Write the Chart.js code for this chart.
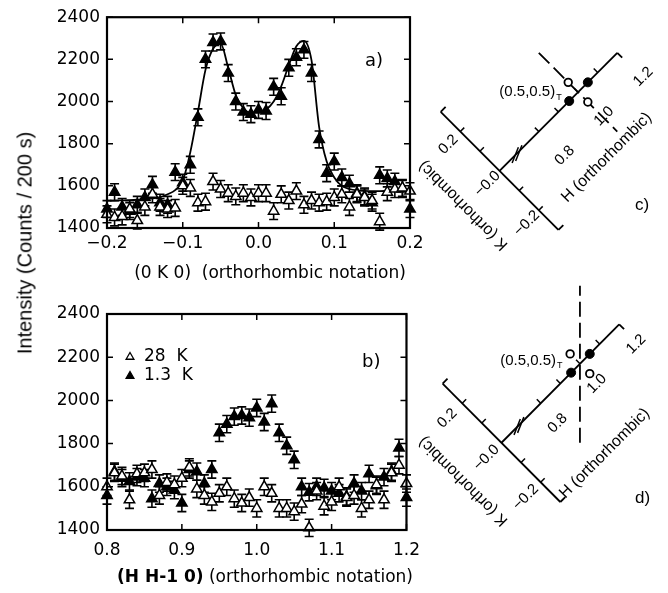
<!DOCTYPE html>
<html>
<head>
<meta charset="utf-8">
<script src="https://cdn.jsdelivr.net/npm/chart.js@4/dist/chart.umd.min.js"></script>
<style>
  body { margin: 0; background: #fff; width: 668px; height: 593px; position: relative; overflow: hidden; }
  canvas { position: absolute; }
  .lbl { position: absolute; white-space: nowrap; color: #000; transform: translate(-50%, -50%); }
</style>
</head>
<body>
<canvas id="chartA" width="430" height="290" style="left:0;top:0;width:430px;height:290px"></canvas>
<canvas id="chartB" width="430" height="303" style="left:0;top:290px;width:430px;height:303px"></canvas>
<canvas id="diagC" width="268" height="290" style="left:400px;top:0;width:268px;height:290px"></canvas>
<canvas id="diagD" width="268" height="313" style="left:400px;top:280px;width:268px;height:313px"></canvas>

<div class="lbl" style="left:25px;top:243px;transform:translate(-50%,-50%) rotate(-90deg);font:20px 'Liberation Sans'">Intensity (Counts / 200 s)</div>
<div class="lbl" style="left:270px;top:272px;font:17px 'DejaVu Sans'">(0 K 0)&nbsp; (orthorhombic notation)</div>
<div class="lbl" style="left:265px;top:576px;font:17px 'DejaVu Sans'"><b>(H H-1 0)</b> (orthorhombic notation)</div>

<script>
// ---- panel a: scan along (0 K 0)
const kScan = [-0.20, -0.19, -0.18, -0.17, -0.16, -0.15, -0.14, -0.13, -0.12, -0.11, -0.10,
  -0.09, -0.08, -0.07, -0.06, -0.05, -0.04, -0.03, -0.02, -0.01, 0.00,
  0.01, 0.02, 0.03, 0.04, 0.05, 0.06, 0.07, 0.08, 0.09, 0.10,
  0.11, 0.12, 0.13, 0.14, 0.15, 0.16, 0.17, 0.18, 0.19, 0.20];
const a_1p3K = [1490, 1570, 1500, 1480, 1510, 1545, 1605, 1520, 1510, 1665, 1615,
  1700, 1925, 2200, 2280, 2285, 2135, 2000, 1950, 1940, 1960,
  1955, 2070, 2025, 2160, 2210, 2245, 2135, 1820, 1660, 1715,
  1640, 1610, 1565, 1550, 1520, 1650, 1635, 1620, 1585, 1490];
const a_28K = [1465, 1450, 1455, 1490, 1435, 1500, 1560, 1500, 1490, 1495, 1600,
  1590, 1520, 1525, 1620, 1585, 1565, 1550, 1565, 1545, 1565,
  1565, 1480, 1560, 1530, 1575, 1510, 1530, 1520, 1525, 1545,
  1560, 1500, 1560, 1545, 1530, 1430, 1570, 1585, 1590, 1575];
const a_fit = [1530, 1530, 1531, 1532, 1534, 1537, 1541, 1546, 1560, 1580, 1625,
  1760, 1950, 2150, 2250, 2275, 2160, 2030, 1968, 1948, 1950,
  1962, 2000, 2072, 2172, 2262, 2288, 2195, 1880, 1715, 1640,
  1600, 1585, 1578, 1576, 1575, 1575, 1576, 1577, 1578, 1579];

// ---- panel b: scan along (H H-1 0)
const hScan = [0.80, 0.81, 0.82, 0.83, 0.84, 0.85, 0.86, 0.87, 0.88, 0.89, 0.90,
  0.91, 0.92, 0.93, 0.94, 0.95, 0.96, 0.97, 0.98, 0.99, 1.00,
  1.01, 1.02, 1.03, 1.04, 1.05, 1.06, 1.07, 1.08, 1.09, 1.10,
  1.11, 1.12, 1.13, 1.14, 1.15, 1.16, 1.17, 1.18, 1.19, 1.20];
const b_1p3K = [1560, 1670, 1640, 1625, 1645, 1640, 1545, 1615, 1600, 1585, 1525,
  1680, 1670, 1615, 1680, 1850, 1890, 1925, 1930, 1920, 1965,
  1900, 1985, 1850, 1790, 1725, 1600, 1575, 1600, 1595, 1580,
  1570, 1555, 1615, 1580, 1660, 1605, 1645, 1670, 1780, 1550];
const b_28K = [1600, 1665, 1650, 1540, 1660, 1665, 1680, 1560, 1620, 1610, 1640,
  1690, 1590, 1560, 1530, 1570, 1600, 1545, 1525, 1550, 1500,
  1600, 1570, 1500, 1500, 1485, 1520, 1410, 1580, 1510, 1530,
  1600, 1550, 1560, 1500, 1540, 1610, 1540, 1665, 1700, 1615];

const errCounts = 40;
const intensityTicks = [1400, 1600, 1800, 2000, 2200, 2400];
const legendItems = [{ text: '28  K', fill: '#fff' }, { text: '1.3  K', fill: '#000' }];

// ---- diagrams c) and d)
const hTickVals = [0.8, 0.9, 1.0, 1.1];
const hTickLabels = [[0.8, '0.8'], [1.0, '1.0'], [1.2, '1.2']];
const kTickVals = [0.2, 0.1, -0.1, -0.2];
const kTickLabels = [[0.2, '0.2'], [0, '\u22120.0'], [-0.2, '\u22120.2']];
const filledSpots = [[0.955, 0], [1.05, 0]];
const openSpots = [[1.0, 0.05], [1.0, -0.05]];
const dashC = [[1.0, 0.2], [1.0, -0.2]];
const dashD = [[0.8, -0.2], [1.2, 0.2]];

const fmt = v => {
  if (Math.abs(v) < 1e-9) return '0.0';
  return (v < 0 ? '\u2212' : '') + Math.abs(v).toFixed(1);
};
const pts = (xs, ys) => xs.map((x, i) => ({ x: x, y: ys[i] }));

const errorBars = {
  id: 'errorBars',
  beforeDatasetsDraw(chart) {
    const { ctx, scales: { y } } = chart;
    ctx.save();
    ctx.strokeStyle = '#000';
    ctx.lineWidth = 1.6;
    chart.data.datasets.forEach((ds, i) => {
      if (!ds.err) return;
      chart.getDatasetMeta(i).data.forEach((p, j) => {
        const v = ds.data[j].y;
        const t = y.getPixelForValue(v + ds.err), b = y.getPixelForValue(v - ds.err);
        ctx.beginPath();
        ctx.moveTo(p.x, t); ctx.lineTo(p.x, b);
        ctx.moveTo(p.x - 4.5, t); ctx.lineTo(p.x + 4.5, t);
        ctx.moveTo(p.x - 4.5, b); ctx.lineTo(p.x + 4.5, b);
        ctx.stroke();
      });
    });
    ctx.restore();
  }
};

const frame = {
  id: 'frame',
  afterDatasetsDraw(chart, args, opts) {
    const { ctx, chartArea: a, scales: { x, y } } = chart;
    ctx.save();
    ctx.strokeStyle = '#000';
    ctx.lineWidth = 1.5;
    ctx.beginPath();
    x.ticks.forEach(t => {
      const px = x.getPixelForValue(t.value);
      ctx.moveTo(px, a.bottom); ctx.lineTo(px, a.bottom - 6);
      ctx.moveTo(px, a.top); ctx.lineTo(px, a.top + 6);
    });
    y.ticks.forEach(t => {
      const py = y.getPixelForValue(t.value);
      ctx.moveTo(a.left, py); ctx.lineTo(a.left + 6, py);
      ctx.moveTo(a.right, py); ctx.lineTo(a.right - 6, py);
    });
    ctx.stroke();
    ctx.lineWidth = 2.2;
    ctx.strokeRect(a.left, a.top, a.width, a.height);
    ctx.fillStyle = '#000';
    ctx.textBaseline = 'middle';
    ctx.font = '18px "DejaVu Sans"';
    ctx.fillText(opts.panel, a.left + opts.panelAt[0], a.top + opts.panelAt[1]);
    if (opts.legend) {
      ctx.font = '17px "DejaVu Sans"';
      ctx.lineWidth = 1.3;
      opts.legend.forEach((it, i) => {
        const lx = a.left + 23, ly = a.top + 43 + i * 19;
        ctx.fillStyle = it.fill;
        ctx.beginPath();
        ctx.moveTo(lx, ly - 4.5); ctx.lineTo(lx + 3.9, ly + 2.25); ctx.lineTo(lx - 3.9, ly + 2.25); ctx.closePath();
        ctx.fill(); ctx.stroke();
        ctx.fillStyle = '#000';
        ctx.fillText(it.text, lx + 14, ly);
      });
    }
    ctx.restore();
  }
};

function scanChart(id, xs, xmin, xmax, sets, opts) {
  const tickFont = { family: 'DejaVu Sans', size: 17 };
  const datasets = [
    { data: pts(xs, sets.open), err: errCounts, showLine: false, pointStyle: 'triangle', pointRadius: 6,
      pointBorderWidth: 1.5, backgroundColor: '#fff', borderColor: '#000', clip: false },
    { data: pts(xs, sets.filled), err: errCounts, showLine: false, pointStyle: 'triangle', pointRadius: 6,
      pointBorderWidth: 1.5, backgroundColor: '#000', borderColor: '#000', clip: false }
  ];
  if (sets.fit) {
    datasets.push({ data: pts(xs, sets.fit), showLine: true, pointRadius: 0, borderColor: '#000',
      borderWidth: 1.8, cubicInterpolationMode: 'monotone' });
  }
  return new Chart(document.getElementById(id), {
    type: 'scatter',
    data: { datasets: datasets },
    options: {
      responsive: false, animation: false, devicePixelRatio: 1,
      layout: { padding: { top: opts.top, right: 20, left: 0, bottom: 0 } },
      plugins: { legend: { display: false }, tooltip: { enabled: false },
        frame: { panel: opts.panel, panelAt: opts.panelAt, legend: opts.legend } },
      scales: {
        x: { type: 'linear', min: xmin, max: xmax,
          afterFit: s => { s.height = opts.xh; },
          grid: { display: false, drawTicks: false }, border: { display: false },
          ticks: { stepSize: 0.1, padding: opts.xpad, color: '#000', font: tickFont, maxRotation: 0, autoSkip: false, callback: fmt } },
        y: { type: 'linear', min: 1400, max: 2400,
          afterFit: s => { s.width = 107; },
          afterBuildTicks: s => { s.ticks = intensityTicks.map(v => ({ value: v })); },
          grid: { display: false, drawTicks: false }, border: { display: false },
          ticks: { padding: 7, color: '#000', font: tickFont, callback: v => String(v) } }
      }
    },
    plugins: [errorBars, frame]
  });
}

scanChart('chartA', kScan, -0.2, 0.2, { filled: a_1p3K, open: a_28K, fit: a_fit },
  { top: 13, xh: 62, xpad: 5, panel: 'a)', panelAt: [258, 44] });
scanChart('chartB', hScan, 0.8, 1.2, { filled: b_1p3K, open: b_28K },
  { top: 24, xh: 63, xpad: 10, panel: 'b)', panelAt: [255, 48], legend: legendItems });

// ---- reciprocal-space sketches
const PX = 290;            // pixels per reciprocal lattice unit
const H_BREAK = 0.6;       // axis break between H = 0 and H = 0.8
const hPos = h => (h >= 0.8 ? h - H_BREAK : h);
const toXY = (p, k) => ({ x: (p - k) / Math.SQRT2, y: (p + k) / Math.SQRT2 });

const diagramText = {
  id: 'diagramText',
  afterDatasetsDraw(chart, args, o) {
    const { ctx, scales: { x, y } } = chart;
    const px = (p, k) => { const q = toXY(p, k); return [x.getPixelForValue(q.x), y.getPixelForValue(q.y)]; };
    const put = (txt, cx, cy, rot, font) => {
      ctx.save(); ctx.translate(cx, cy); ctx.rotate(rot);
      ctx.font = font; ctx.textAlign = 'center'; ctx.textBaseline = 'middle';
      ctx.fillText(txt, 0, 0); ctx.restore();
    };
    ctx.save();
    ctx.fillStyle = '#000';
    const tf = '15px "Liberation Sans"', hf = '16px "Liberation Sans"';
    hTickLabels.forEach(([h, s]) => { const [cx, cy] = px(hPos(h), 0); put(s, cx + o.hOff[0], cy + o.hOff[1], -Math.PI / 4, tf); });
    kTickLabels.forEach(([k, s]) => { const [cx, cy] = px(0, k); put(s, cx + o.kOff[0], cy + o.kOff[1], -Math.PI / 4, tf); });
    let [cx, cy] = px(o.hTitle[0], o.hTitle[1]);
    put('H (orthorhombic)', cx, cy, -Math.PI / 4, hf);
    [cx, cy] = px(o.kTitle[0], o.kTitle[1]);
    put('K (orthorhombic)', cx, cy, Math.PI * 1.25, hf);
    [cx, cy] = px(hPos(filledSpots[0][0]), filledSpots[0][1]);
    ctx.font = '15px "Liberation Sans"';
    ctx.textAlign = 'right'; ctx.textBaseline = 'middle';
    ctx.fillText('(0.5,0.5)', cx + o.tag[0], cy + o.tag[1]);
    ctx.font = '9px "Liberation Sans"'; ctx.textAlign = 'left';
    ctx.fillText('T', cx + o.tag[0] + 1, cy + o.tag[1] + 5);
    ctx.font = '17px "Liberation Sans"';
    ctx.fillText(o.panel, o.panelAt[0], o.panelAt[1]);
    ctx.restore();
  }
};

function diagram(id, spec) {
  const line = (a, b, extra) => Object.assign({ data: [toXY(a[0], a[1]), toXY(b[0], b[1])], showLine: true,
    pointRadius: 0, borderColor: '#000', borderWidth: 1.8 }, extra || {});
  const datasets = [
    { data: filledSpots.map(([h, k]) => toXY(hPos(h), k)), pointRadius: 4.5, backgroundColor: '#000', borderColor: '#000', pointBorderWidth: 1 },
    { data: openSpots.map(([h, k]) => toXY(hPos(h), k)), pointRadius: 3.8, backgroundColor: '#fff', borderColor: '#000', pointBorderWidth: 1.8 },
    line([hPos(spec.dash[0][0]), spec.dash[0][1]], [hPos(spec.dash[1][0]), spec.dash[1][1]], { borderDash: [15, 6] }),
    line([0, 0.3], [0, -0.3]),
    line([0, 0], [hPos(1.2), 0]),
    line([0, 0.3], [0.025, 0.3]),
    line([0, -0.3], [0.025, -0.3]),
    line([hPos(1.2), 0], [hPos(1.2), -0.025]),
    // axis break "//"
    line([0.052, -0.012], [0.108, 0.012], { borderWidth: 1.5 }),
    line([0.066, -0.016], [0.122, 0.008], { borderWidth: 1.5 })
  ];
  hTickVals.forEach(h => datasets.push(line([hPos(h), 0], [hPos(h), 0.02], { borderWidth: 1.5 })));
  kTickVals.forEach(k => datasets.push(line([0, k], [0.02, k], { borderWidth: 1.5 })));
  const ox = spec.origin[0] - spec.left, oy = spec.origin[1] - spec.top;
  return new Chart(document.getElementById(id), {
    type: 'scatter',
    data: { datasets: datasets },
    options: {
      responsive: false, animation: false, devicePixelRatio: 1,
      layout: { padding: 0 },
      plugins: { legend: { display: false }, tooltip: { enabled: false }, diagramText: spec.text },
      scales: {
        x: { display: false, min: -ox / PX, max: (spec.w - ox) / PX },
        y: { display: false, min: -(spec.h - oy) / PX, max: oy / PX }
      }
    },
    plugins: [diagramText]
  });
}

diagram('diagC', { left: 400, top: 0, w: 268, h: 290, origin: [498, 172], dash: dashC,
  text: { hOff: [26, 24], kOff: [-12, 13], hTitle: [0.307, -0.239], kTitle: [-0.18, 0.005],
    tag: [-14, -9], panel: 'c)', panelAt: [235, 205] } });
diagram('diagD', { left: 400, top: 280, w: 268, h: 313, origin: [500, 443], dash: dashD,
  text: { hOff: [17, 20], kOff: [-15, 15], hTitle: [0.236, -0.29], kTitle: [-0.195, 0],
    tag: [-15, -12], panel: 'd)', panelAt: [235, 218] } });
</script>
</body>
</html>
